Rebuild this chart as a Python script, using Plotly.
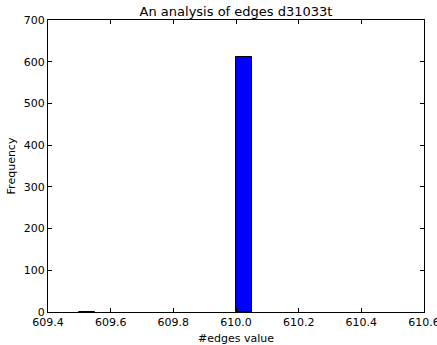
import plotly.graph_objects as go

title = "An analysis of edges d31033t"
bin_edges = [609.5 + 0.05 * i for i in range(21)]
counts = [0, 0, 0, 0, 0, 0, 0, 0, 0, 0, 611, 0, 0, 0, 0, 0, 0, 0, 0, 0]
x_ticks = [609.4, 609.6, 609.8, 610.0, 610.2, 610.4, 610.6]
x_tick_labels = ["609.4", "609.6", "609.8", "610.0", "610.2", "610.4", "610.6"]
y_ticks = [0, 100, 200, 300, 400, 500, 600, 700]

centers = [(bin_edges[i] + bin_edges[i + 1]) / 2 for i in range(len(counts))]
widths = [bin_edges[i + 1] - bin_edges[i] for i in range(len(counts))]
edge_widths = [1 if (c > 0 or i == 0) else 0 for i, c in enumerate(counts)]

fig = go.Figure(go.Bar(
    x=centers, y=counts, width=widths,
    marker=dict(color="#0000ff", line=dict(color="black", width=edge_widths)),
))

axis_common = dict(
    showgrid=False, zeroline=False, showline=True, linecolor="black", linewidth=1,
    mirror="ticks", ticks="inside", ticklen=4, tickcolor="black",
    tickfont=dict(family="DejaVu Sans", size=11, color="black"),
    ticklabeloverflow="allow",
)
fig.update_layout(
    width=437, height=345,
    margin=dict(l=48, r=13, t=20, b=33),
    plot_bgcolor="white", paper_bgcolor="white",
    showlegend=False, bargap=0,
    title=dict(text=title, x=0.5, xanchor="center", xref="paper", y=1 - 11 / 345, yanchor="middle",
               font=dict(family="DejaVu Sans", size=13, color="black")),
    xaxis=dict(range=[609.4, 610.6], tickvals=x_ticks, ticktext=x_tick_labels, automargin=False,
               title=dict(text="#edges value", font=dict(family="DejaVu Sans", size=11, color="black")),
               **axis_common),
    yaxis=dict(range=[0, 700], tickvals=y_ticks, automargin=True,
               title=dict(text="Frequency", standoff=5, font=dict(family="DejaVu Sans", size=11, color="black")),
               **axis_common),
)
fig.write_html("out.html", config={"displayModeBar": False},
               post_script="document.body.style.margin='0';")
